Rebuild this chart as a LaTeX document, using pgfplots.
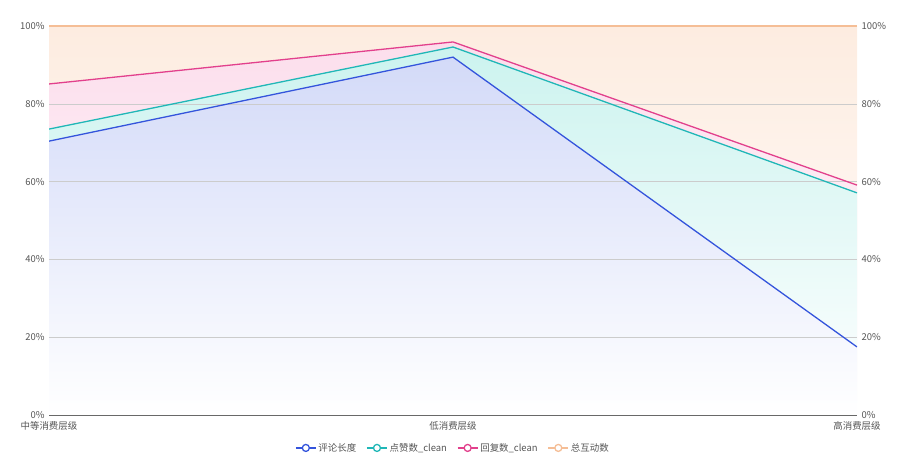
\documentclass[border=0pt]{standalone}
\usepackage{fontspec}
\setmainfont{Noto Sans CJK SC}
\usepackage{pgfplots}
\pgfplotsset{compat=1.18}
\definecolor{cblue}{RGB}{52,84,220}
\definecolor{cteal}{RGB}{32,183,183}
\definecolor{cpink}{RGB}{226,64,140}
\definecolor{corange}{RGB}{245,190,150}
\definecolor{fblue}{RGB}{211,218,248}
\definecolor{fteal}{RGB}{204,243,239}
\definecolor{fpink}{RGB}{252,222,236}
\definecolor{forange}{RGB}{253,236,224}
\definecolor{labgray}{RGB}{85,85,85}
\begin{document}
\begin{tikzpicture}
\path[use as bounding box] (-49bp,-49bp) rectangle (851bp,415bp);
\pgfplotsset{
  base/.style={
    scale only axis, width=808bp, height=389bp,
    xmin=0, xmax=2, ymin=0, ymax=100,
    ytick={0,20,40,60,80,100},
    yticklabels={0\%,20\%,40\%,60\%,80\%,100\%},
    major tick length=0pt,
    tick label style={font=\fontsize{9.5}{11}\selectfont, text=labgray},
    /pgf/number format/assume math mode=true,
  }
}
\begin{axis}[base,
  axis x line=bottom, axis y line=none,
  axis line style={black, line width=0.8pt, -},
  xtick={0,1,2},
  xticklabels={中等消费层级,低消费层级,高消费层级},
  x tick label style={yshift=-3bp},
  ytick style={draw=none},
  legend columns=4,
  legend style={draw=none, fill=none, at={(0.5,0)}, anchor=north, yshift=-24bp,
    font=\fontsize{9.5}{11}\selectfont, text=labgray,
    /tikz/every even column/.append style={column sep=8bp}},
  legend image code/.code={
    \draw[#1, line width=1.3pt] (0bp,0bp) -- (20bp,0bp);
    \draw[#1, line width=1.3pt, fill=white] (10bp,0bp) circle (3.5bp);
  },
]
% areas
\addplot[forget plot, draw=none, shading=axis, top color=forange, bottom color=white]
  coordinates {(0,100) (1,100) (2,100)} \closedcycle;
\addplot[forget plot, draw=none, shading=axis, top color=fpink, bottom color=white]
  coordinates {(0,85.1) (1,95.9) (2,59.1)} \closedcycle;
\addplot[forget plot, draw=none, shading=axis, top color=fteal, bottom color=white]
  coordinates {(0,73.5) (1,94.6) (2,57.1)} \closedcycle;
\addplot[forget plot, draw=none, shading=axis, top color=fblue, bottom color=white]
  coordinates {(0,70.4) (1,92.0) (2,17.5)} \closedcycle;
% grid lines
\addplot[forget plot, draw=gray!40, line width=0.5pt] coordinates {(0,20) (2,20)};
\addplot[forget plot, draw=gray!40, line width=0.5pt] coordinates {(0,40) (2,40)};
\addplot[forget plot, draw=gray!40, line width=0.5pt] coordinates {(0,60) (2,60)};
\addplot[forget plot, draw=gray!40, line width=0.5pt] coordinates {(0,80) (2,80)};
% lines
\addplot[forget plot, corange, line width=1.3pt] coordinates {(0,100) (1,100) (2,100)};
\addplot[forget plot, cpink, line width=1.3pt] coordinates {(0,85.1) (1,95.9) (2,59.1)};
\addplot[forget plot, cteal, line width=1.3pt] coordinates {(0,73.5) (1,94.6) (2,57.1)};
\addplot[forget plot, cblue, line width=1.3pt] coordinates {(0,70.4) (1,92.0) (2,17.5)};
\addlegendimage{cblue}
\addlegendentry{评论长度}
\addlegendimage{cteal}
\addlegendentry{点赞数\_clean}
\addlegendimage{cpink}
\addlegendentry{回复数\_clean}
\addlegendimage{corange}
\addlegendentry{总互动数}
\end{axis}
\begin{axis}[base, axis x line=none, axis y line=left, axis line style={draw=none},
  xtick=\empty, yticklabel style={xshift=-1bp}]
\end{axis}
\begin{axis}[base, axis x line=none, axis y line=right, axis line style={draw=none},
  xtick=\empty, yticklabel style={xshift=1bp}]
\end{axis}
\end{tikzpicture}
\end{document}
